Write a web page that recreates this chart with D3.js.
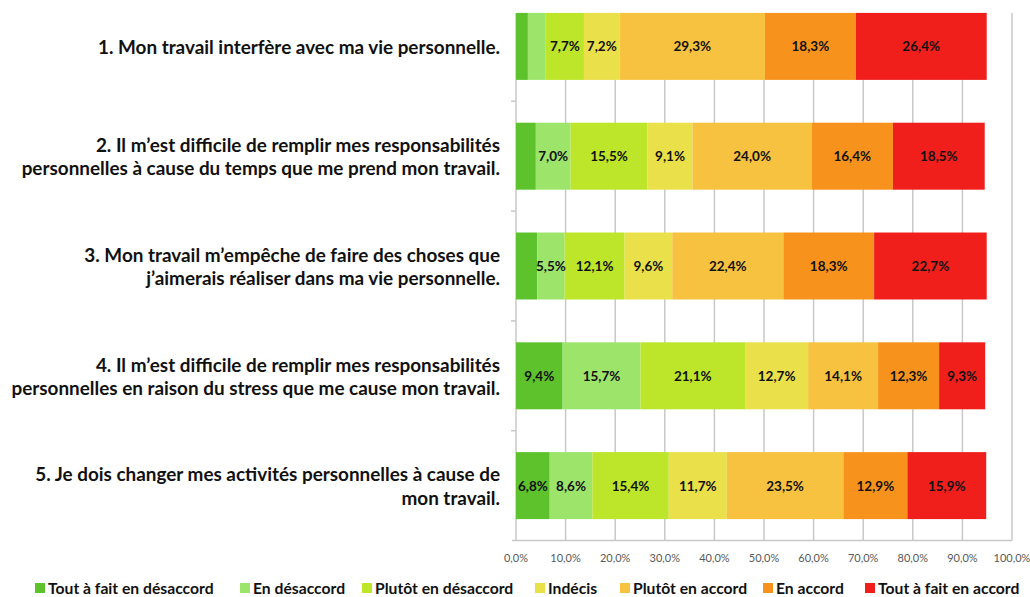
<!DOCTYPE html>
<html>
<head>
<meta charset="utf-8">
<script src="https://cdn.jsdelivr.net/npm/d3@7"></script>
<style>
  html, body { margin: 0; padding: 0; background: #ffffff; }
  svg { display: block; }
</style>
</head>
<body>
<svg id="chart" width="1030" height="597"></svg>
<script>
// ---------- DATA ----------
const questions = [
  ["1. Mon travail interfère avec ma vie personnelle."],
  ["2. Il m’est difficile de remplir mes responsabilités", "personnelles à cause du temps que me prend mon travail."],
  ["3. Mon travail m’empêche de faire des choses que", "j’aimerais réaliser dans ma vie personnelle."],
  ["4. Il m’est difficile de remplir mes responsabilités", "personnelles en raison du stress que me cause mon travail."],
  ["5. Je dois changer mes activités personnelles à cause de", "mon travail."]
];
const categories = ["Tout à fait en désaccord", "En désaccord", "Plutôt en désaccord", "Indécis", "Plutôt en accord", "En accord", "Tout à fait en accord"];
const toutAFaitDesaccord = [2.4, 4.0, 4.3, 9.4, 6.8];
const enDesaccord        = [3.6, 7.0, 5.5, 15.7, 8.6];
const plutotDesaccord    = [7.7, 15.5, 12.1, 21.1, 15.4];
const indecis            = [7.2, 9.1, 9.6, 12.7, 11.7];
const plutotAccord       = [29.3, 24.0, 22.4, 14.1, 23.5];
const enAccord           = [18.3, 16.4, 18.3, 12.3, 12.9];
const toutAFaitAccord    = [26.4, 18.5, 22.7, 9.3, 15.9];
const xTicks = [0, 10, 20, 30, 40, 50, 60, 70, 80, 90, 100];

const series = [toutAFaitDesaccord, enDesaccord, plutotDesaccord, indecis, plutotAccord, enAccord, toutAFaitAccord];
const colors = ["#5dc22c", "#9de46a", "#bde52a", "#e9e04a", "#f6c23f", "#f7931c", "#f01f1c"];

// ---------- LAYOUT ----------
const svg = d3.select("#chart");
const x = d3.scaleLinear().domain([0, 100]).range([516, 1012]);
const y = d3.scaleBand().domain(d3.range(questions.length)).range([-8.5, 540.5]).paddingInner(0.39).paddingOuter(0.195);
const fmt = v => v.toFixed(1).replace(".", ",") + "%";
const font = "Lato, 'Open Sans', sans-serif";

// gridlines
svg.append("g").selectAll("line").data(xTicks).join("line")
  .attr("x1", d => x(d)).attr("x2", d => x(d))
  .attr("y1", 13).attr("y2", 540.5)
  .attr("stroke", "#c8c8c8").attr("stroke-width", 1.5);

// x axis line
svg.append("line").attr("x1", x(0) - 4).attr("x2", x(100)).attr("y1", 540.5).attr("y2", 540.5)
  .attr("stroke", "#c8c8c8").attr("stroke-width", 1.5);

// category ticks between bands
const boundaries = d3.range(1, questions.length).map(i => y(i) - y.step() * y.paddingInner() / 2);
svg.append("g").selectAll("line").data(boundaries).join("line")
  .attr("x1", x(0) - 5).attr("x2", x(0)).attr("y1", d => d).attr("y2", d => d)
  .attr("stroke", "#c8c8c8").attr("stroke-width", 1.5);

// stacked bars
const stackData = questions.map((q, i) => {
  let acc = 0;
  return series.map((s, k) => { const v = s[i]; const seg = { i, k, v, x0: acc, x1: acc + v }; acc += v; return seg; });
}).flat();

svg.append("g").selectAll("rect").data(stackData).join("rect")
  .attr("x", d => x(d.x0)).attr("width", d => x(d.x1) - x(d.x0))
  .attr("y", d => y(d.i)).attr("height", y.bandwidth())
  .attr("fill", d => colors[d.k]);

svg.append("g").selectAll("text").data(stackData.filter(d => d.v >= 5)).join("text")
  .attr("x", d => (x(d.x0) + x(d.x1)) / 2)
  .attr("y", d => y(d.i) + y.bandwidth() / 2)
  .attr("text-anchor", "middle").attr("dominant-baseline", "central")
  .attr("font-family", font).attr("font-weight", "bold").attr("font-size", 13.5)
  .attr("fill", "#111111")
  .text(d => fmt(d.v));

// x tick labels
svg.append("g").selectAll("text").data(xTicks).join("text")
  .attr("x", d => x(d)).attr("y", 557)
  .attr("text-anchor", "middle").attr("dominant-baseline", "central")
  .attr("font-family", font).attr("font-size", 11).attr("fill", "#595959")
  .text(d => fmt(d));

// question labels
const qg = svg.append("g").selectAll("text").data(questions).join("text")
  .attr("text-anchor", "end")
  .attr("font-family", font).attr("font-weight", "bold").attr("font-size", 18.9)
  .attr("fill", "#111111");
qg.each(function(lines, i) {
  const cy = y(i) + y.bandwidth() / 2;
  const lh = 23.5;
  const start = cy - (lines.length - 1) * lh / 2;
  d3.select(this).selectAll("tspan").data(lines).join("tspan")
    .attr("x", 500).attr("y", (d, j) => start + j * lh)
    .attr("dominant-baseline", "central")
    .text(d => d);
});

// legend
const legendX = [35, 240, 362, 535, 620, 763, 865];
const lg = svg.append("g").selectAll("g").data(categories).join("g")
  .attr("transform", (d, k) => `translate(${legendX[k]},588)`);
lg.append("rect").attr("x", 0).attr("y", -5).attr("width", 10).attr("height", 10)
  .attr("fill", (d, k) => colors[k]);
lg.append("text").attr("x", 13).attr("y", 0).attr("dominant-baseline", "central")
  .attr("font-family", font).attr("font-weight", "bold").attr("font-size", 15.7)
  .attr("fill", "#111111").text(d => d);
</script>
</body>
</html>
